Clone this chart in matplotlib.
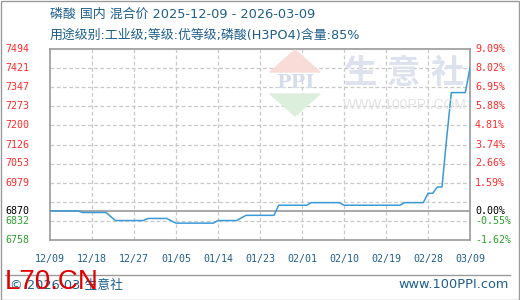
import matplotlib
matplotlib.use("Agg")
import matplotlib.pyplot as plt
from matplotlib.patches import Polygon, Rectangle
import numpy as np
import pandas as pd

plt.rcParams['font.family'] = ['DejaVu Sans', 'Noto Sans CJK SC']

# price series (yuan/ton)
dates = ['2025-12-09', '2025-12-15', '2025-12-16', '2025-12-21', '2025-12-23',
         '2025-12-29', '2025-12-30', '2026-01-03', '2026-01-05', '2026-01-13',
         '2026-01-14', '2026-01-18', '2026-01-20', '2026-01-26', '2026-01-27',
         '2026-02-02', '2026-02-03', '2026-02-09', '2026-02-10', '2026-02-22',
         '2026-02-23', '2026-02-27', '2026-02-28', '2026-03-01', '2026-03-02',
         '2026-03-03', '2026-03-04', '2026-03-05', '2026-03-08', '2026-03-09']
prices = [6870, 6870, 6864, 6864, 6833,
          6833, 6841, 6841, 6823, 6823,
          6833, 6833, 6853, 6853, 6892,
          6892, 6902, 6902, 6892, 6892,
          6902, 6902, 6938, 6938, 6962,
          6962, 7150, 7326, 7326, 7422]

base_price = 6870
y_min, y_max = 6758, 7494
left_labels = ['7494', '7421', '7347', '7273', '7200', '7126', '7053', '6979', '6870', '6832', '6758']
left_values = [7494, 7421, 7347, 7273, 7200, 7126, 7053, 6979, 6870, 6832, 6758]
right_labels = ['9.09%', '8.02%', '6.95%', '5.88%', '4.81%', '3.74%', '2.66%', '1.59%', '0.00%', '-0.55%', '-1.62%']
label_colors = ['#ff2a2a'] * 8 + ['#000000'] + ['#2ca02c'] * 2

x_ticks = ['2025-12-09', '2025-12-18', '2025-12-27', '2026-01-05', '2026-01-14', '2026-01-23',
           '2026-02-01', '2026-02-10', '2026-02-19', '2026-02-28', '2026-03-09']
x_labels = ['12/09', '12/18', '12/27', '01/05', '01/14', '01/23', '02/01', '02/10', '02/19', '02/28', '03/09']

W, H = 520, 300
fig = plt.figure(figsize=(W / 100, H / 100), dpi=100)


def px(x, y):
    return x / W, 1 - y / H


blue_text = '#1f5f8b'
mono = 'DejaVu Sans Mono'

ax = fig.add_axes([50 / W, 60 / H, 420 / W, 191 / H])
d = pd.to_datetime(dates)
t = pd.to_datetime(x_ticks)
ax.set_xlim(t[0], t[-1])
ax.set_ylim(y_min, y_max)

# watermark
tri_up = Polygon([px(270, 72), px(320, 72), px(295, 50)], closed=True,
                 transform=fig.transFigure, color='#f9dcd8', zorder=0)
tri_dn = Polygon([px(270, 94), px(320, 94), px(295, 116)], closed=True,
                 transform=fig.transFigure, color='#dcefdc', zorder=0)
fig.patches.extend([tri_up, tri_dn])
fig.text(*px(295, 83), 'PPI', ha='center', va='center', fontsize=14, color='#d5dcea',
         family='DejaVu Serif', fontweight='bold', zorder=0)
for cx, ch in zip([361, 403, 447], ['生', '意', '社']):
    fig.text(*px(cx, 73), ch, ha='center', va='center', fontsize=24, color='#dde2ee',
             family='Noto Sans CJK SC', fontweight='bold', zorder=0)
fig.text(*px(405, 105), 'WWW.100PPI.COM', ha='center', va='center', fontsize=10,
         color='#e2e2e2', family='Liberation Sans', zorder=0)
ax.patch.set_alpha(0)

# grid
for g in np.linspace(y_min, y_max, 11)[1:-1]:
    ax.axhline(g, color='#c8c8c8', lw=0.9, ls=(0, (3, 2)), zorder=1)
for xt in t[1:-1]:
    ax.axvline(xt, color='#c8c8c8', lw=0.9, ls=(0, (3, 2)), zorder=1)
ax.axhline(base_price, color='#9a9a9a', lw=1.2, zorder=2)

ax.plot(d, prices, color='#3a9ad9', lw=1.1, zorder=3)

for s in ax.spines.values():
    s.set_color('#9a9a9a')
    s.set_linewidth(1.2)
ax.set_xticks(t)
ax.set_xticklabels(x_labels, fontsize=7.2, color=blue_text, family=mono)
ax.set_yticks([])
ax.tick_params(axis='x', length=0, pad=10)

ytr = ax.get_yaxis_transform()
for lab, rl, v, c in zip(left_labels, right_labels, left_values, label_colors):
    ax.text(-45 / 420, v, lab, transform=ytr, ha='left', va='center', fontsize=7.2,
            color=c, family=mono, clip_on=False)
    ax.text(1 + 5 / 420, v, rl, transform=ytr, ha='left', va='center', fontsize=7.2,
            color=c, family=mono, clip_on=False)

# titles
fig.text(*px(50, 14), '磷酸 国内 混合价 2025-12-09 - 2026-03-09', ha='left', va='center',
         fontsize=9.3, color=blue_text)
fig.text(*px(50, 35), '用途级别:工业级;等级:优等级;磷酸(H3PO4)含量:85%', ha='left', va='center',
         fontsize=9.3, color=blue_text)

# footer
fig.add_artist(plt.Line2D([5 / W, 510 / W], [1 - 275 / H, 1 - 275 / H], color='#9a9a9a', lw=1))
fig.text(*px(10, 285), '© 2026.03 生意社', ha='left', va='center', fontsize=9.3, color=blue_text)
fig.text(*px(509, 285), 'www.100PPI.com', ha='right', va='center', fontsize=9.3, color=blue_text)
fig.text(*px(5, 289), 'L70.CN', ha='left', va='baseline', fontsize=20, color='#e00000',
         family='Liberation Sans')

fig.patches.append(Rectangle((0.5 / W, 0.5 / H), (W - 1.5) / W, (H - 1.5) / H, fill=False,
                             edgecolor='#9a9a9a', lw=1, transform=fig.transFigure))

fig.savefig('out.png', dpi=100)
